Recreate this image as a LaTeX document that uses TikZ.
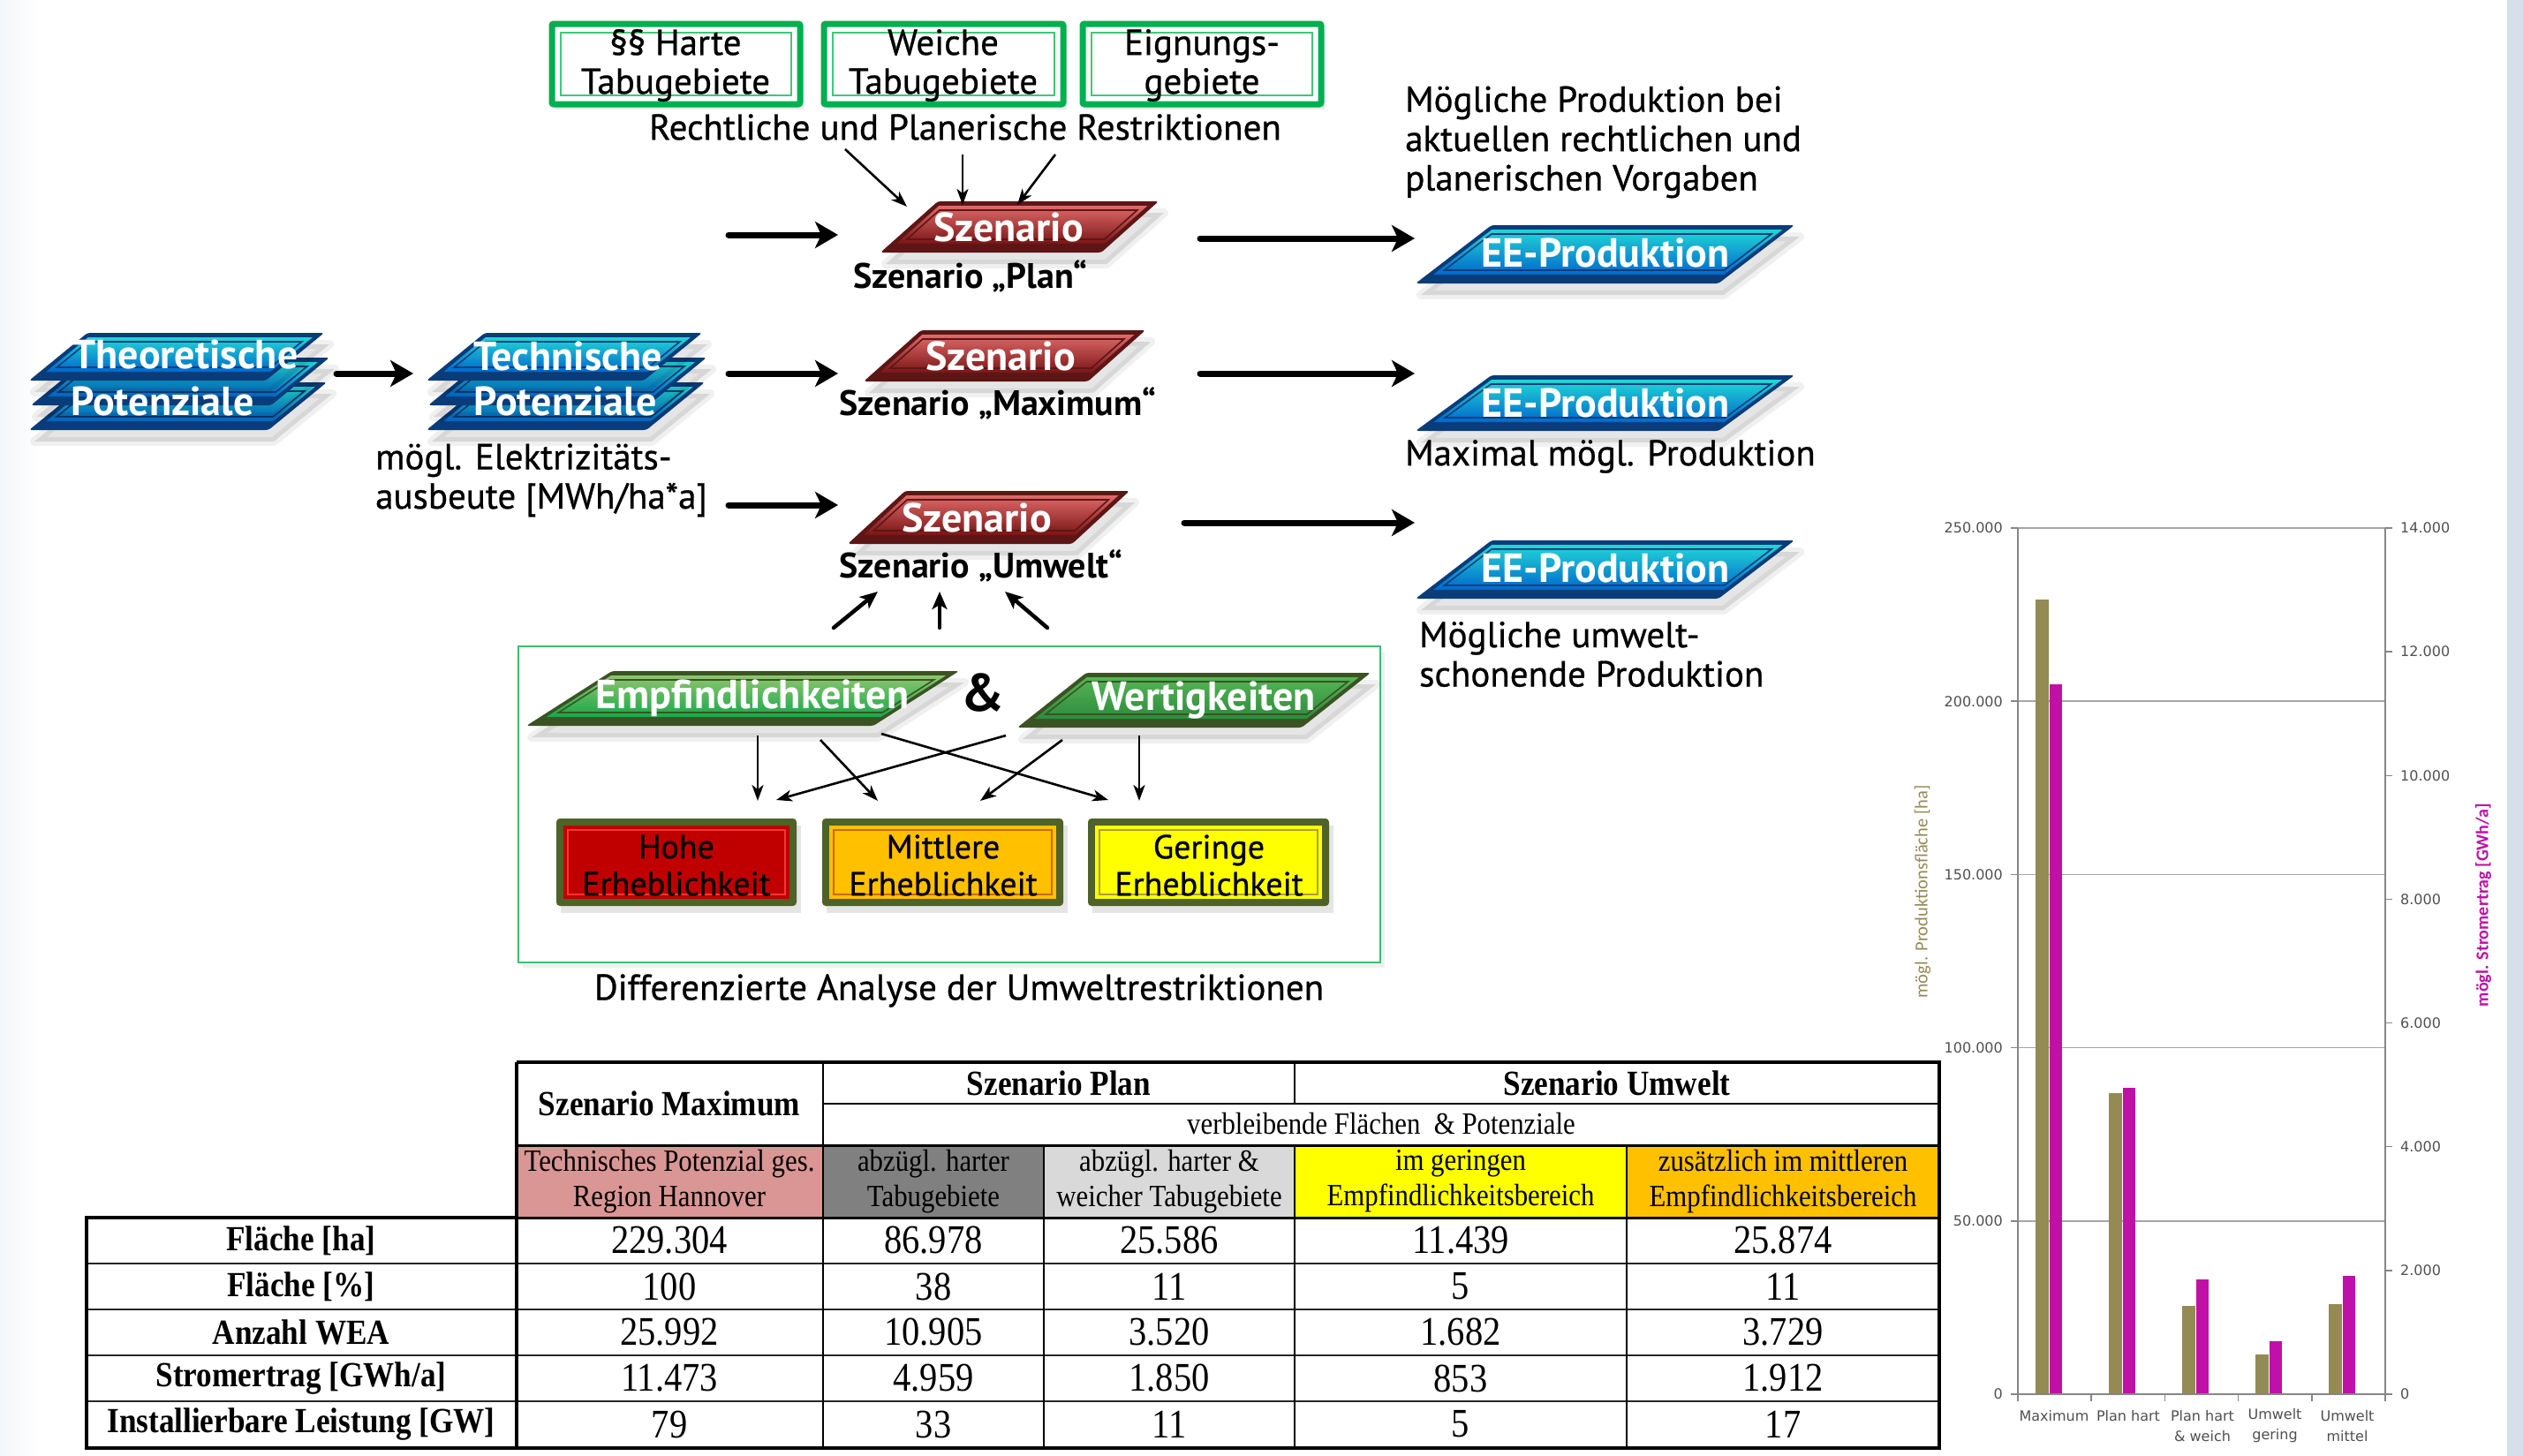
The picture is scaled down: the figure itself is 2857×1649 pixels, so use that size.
\documentclass[tikz,border=0pt]{standalone}
\usepackage{fontspec}
\setmainfont{PT Sans}
\newfontfamily\medfont[FakeBold=0.7]{PT Sans}
\newfontfamily\tabfont[FakeStretch=0.88]{Liberation Serif}
\newfontfamily\chartfont{DejaVu Sans}
\newfontfamily\calfont{Carlito}
\usetikzlibrary{arrows.meta}
\definecolor{gboxc}{HTML}{00B050}
\definecolor{gboxin}{HTML}{40C878}
\definecolor{framec}{HTML}{3CC070}
\definecolor{olivebd}{HTML}{4F6228}
\definecolor{redbd}{HTML}{5E1515}
\definecolor{redtop}{HTML}{E06A6A}
\definecolor{redbot}{HTML}{7A1515}
\definecolor{bluebd}{HTML}{0A3C7A}
\definecolor{bluetop}{HTML}{22D6D6}
\definecolor{bluebot}{HTML}{0068CC}
\definecolor{grnbd}{HTML}{3B5323}
\definecolor{grntop}{HTML}{8EC56E}
\definecolor{grnbot}{HTML}{18A84A}
\definecolor{wrttop}{HTML}{55B455}
\definecolor{wrtbot}{HTML}{2E8B3E}
\definecolor{tpink}{HTML}{DA9694}
\definecolor{tdgray}{HTML}{808080}
\definecolor{tlgray}{HTML}{D9D9D9}
\definecolor{tyellow}{HTML}{FFFF00}
\definecolor{torange}{HTML}{FFC000}
\definecolor{hohec}{HTML}{C00000}
\definecolor{olivec}{HTML}{948A54}
\definecolor{magc}{HTML}{C010A8}
\definecolor{gridc}{HTML}{A6A6A6}
\definecolor{axisc}{HTML}{868686}
\definecolor{tickc}{HTML}{505050}
\definecolor{stripc}{HTML}{D6DFEA}
\definecolor{leftc}{HTML}{F3F6FA}
\newcommand\fsz[2]{\fontsize{#1}{#2}\selectfont}
% parallelogram with 3D look: xL yT xR yB slant border top bottom
\newcommand\pgshape[8]{%
 \pgfmathsetmacro\pgsh{#4-#2}%
 \pgfmathsetmacro\pgsk{#5/\pgsh}%
 \pgfmathsetmacro\pgsA{#1+\pgsk*10+7}%
 \pgfmathsetmacro\pgsB{#1+\pgsk*(\pgsh-5)+7}%
 \pgfmathsetmacro\pgsC{#3-\pgsk*5-7}%
 \pgfmathsetmacro\pgsD{#3-\pgsk*(\pgsh-10)-7}%
 \pgfmathsetmacro\pgsE{#1+\pgsk*15+13}%
 \pgfmathsetmacro\pgsF{#1+\pgsk*(\pgsh-10)+13}%
 \pgfmathsetmacro\pgsG{#3-\pgsk*10-13}%
 \pgfmathsetmacro\pgsH{#3-\pgsk*(\pgsh-15)-13}%
 \fill[black,opacity=0.10] (#1+6,#4+13) -- (#1+#5+6,#2+13) -- (#3+6,#2+13) -- (#3-#5+6,#4+13) -- cycle;
 \draw[black,opacity=0.06,line width=10pt,line join=round] (#1+6,#4+13) -- (#1+#5+6,#2+13) -- (#3+6,#2+13) -- (#3-#5+6,#4+13) -- cycle;
 \fill[#6,rounded corners=3pt] (#1,#4) -- (#1+#5,#2) -- (#3,#2) -- (#3-#5,#4) -- cycle;
 \shade[top color=#7,bottom color=#8] (\pgsA,#4-10) -- (\pgsB,#2+5) -- (\pgsC,#2+5) -- (\pgsD,#4-10) -- cycle;
 \draw[#6,line width=1.6pt] (\pgsE,#4-15) -- (\pgsF,#2+10) -- (\pgsG,#2+10) -- (\pgsH,#4-15) -- cycle;
}
\newcommand\gbox[4]{%
 \fill[black,opacity=0.08] (#1+4,#2+6) rectangle (#3+4,#4+6);
 \fill[white] (#1,#2) rectangle (#3,#4);
 \draw[gboxc,line width=7pt,rounded corners=2pt] (#1,#2) rectangle (#3,#4);
 \draw[gboxin,line width=2pt] (#1+10,#2+10) rectangle (#3-10,#4-10);
}
\newcommand\ebox[6]{%
 \fill[black,opacity=0.10] (#1+5,#2+8) rectangle (#3+5,#4+8);
 \fill[olivebd,rounded corners=4pt] (#1,#2) rectangle (#3,#4);
 \fill[#5] (#1+8,#2+8) rectangle (#3-8,#4-8);
 \draw[#6,line width=1.8pt] (#1+13,#2+13) rectangle (#3-13,#4-13);
}
\tikzset{
 desc/.style={inner sep=0pt,align=center,font=\medfont\fsz{41}{44}},
 descl/.style={inner sep=0pt,align=left,anchor=west,font=\medfont\fsz{41}{44.5}},
 scen/.style={inner sep=0pt,font=\bfseries\fsz{40}{44}},
 shapetext/.style={inner sep=0pt,text=white,align=center,font=\bfseries\fsz{46}{52}},
 etext/.style={inner sep=0pt,align=center,font=\medfont\fsz{38}{42}},
 fatarrow/.style={line width=7pt,line cap=round,-{Stealth[length=26pt,width=30pt,inset=7pt]}},
 thinarrow/.style={line width=2.6pt,-{Stealth[length=18pt,width=13pt,inset=5pt]}},
 midarrow/.style={line width=4.5pt,line cap=round,-{Stealth[length=20pt,width=17pt,inset=5pt]}},
 tcell/.style={inner sep=0pt,align=center,font=\tabfont\fsz{35}{40}},
 tnum/.style={inner sep=0pt,font=\tabfont\fsz{46}{50}},
 tlab/.style={inner sep=0pt,font=\tabfont\bfseries\fsz{40}{46}},
 thead/.style={inner sep=0pt,font=\tabfont\bfseries\fsz{40}{46}},
 tick/.style={inner sep=0pt,text=tickc,font=\chartfont\fsz{16}{20}},
 cat/.style={inner sep=0pt,text=tickc,align=center,font=\chartfont\fsz{16}{23}},
}
\begin{document}
\begin{tikzpicture}[x=1pt,y=-1pt]
\useasboundingbox (0,0) rectangle (2857,1649);
\fill[white] (0,0) rectangle (2857,1649);
\shade[left color=leftc,right color=white] (0,0) rectangle (45,1649);
\fill[stripc] (2839,0) rectangle (2857,1649);

% ---------- top restriction boxes
\gbox{625}{27}{906}{118}
\gbox{933}{27}{1204}{118}
\gbox{1226}{27}{1496}{118}
\node[desc] (hart) at (765,74) {§§ Harte\\Tabugebiete};
\node[desc] (weich) at (1068,74) {Weiche\\Tabugebiete};
\node[desc] (eign) at (1361,74) {Eignungs-\\gebiete};
\node[desc] (restr) at (1093,144) {Rechtliche und Planerische Restriktionen};

% ---------- stacks
\pgshape{33}{433}{370}{487}{66}{bluebd}{bluetop}{bluebot}
\pgshape{35}{405}{373}{459}{66}{bluebd}{bluetop}{bluebot}
\pgshape{33}{377}{367}{431}{66}{bluebd}{bluetop}{bluebot}
\node[shapetext] (theo1) at (210,401) {Theoretische};
\node[shapetext] (theo2) at (184,454) {Potenziale};
\pgshape{483}{433}{798}{487}{66}{bluebd}{bluetop}{bluebot}
\pgshape{485}{405}{800}{459}{66}{bluebd}{bluetop}{bluebot}
\pgshape{483}{377}{795}{431}{66}{bluebd}{bluetop}{bluebot}
\node[shapetext] (tech1) at (643,403) {Technische};
\node[shapetext] (tech2) at (640,454) {Potenziale};
\node[descl] (ausb) at (425,544) {mögl. Elektrizitäts-\\ausbeute [MWh/ha*a]};

% ---------- scenarios
\pgshape{997}{228}{1312}{286}{65}{redbd}{redtop}{redbot}
\node[shapetext] (plan) at (1142,257) {Szenario};
\node[scen] (planlab) at (1099,313) {Szenario „Plan“};
\pgshape{978}{374}{1297}{432}{65}{redbd}{redtop}{redbot}
\node[shapetext] (max) at (1133,403) {Szenario};
\node[scen] (maxlab) at (1130,457) {Szenario „Maximum“};
\pgshape{960}{556}{1279}{616}{65}{redbd}{redtop}{redbot}
\node[shapetext] (umw) at (1106,586) {Szenario};
\node[scen] (umwlab) at (1111,641) {Szenario „Umwelt“};

% ---------- EE production
\pgshape{1603}{255}{2032}{321}{86}{bluebd}{bluetop}{bluebot}
\node[shapetext] (ee1) at (1818,286) {EE-Produktion};
\pgshape{1603}{425}{2032}{488}{86}{bluebd}{bluetop}{bluebot}
\node[shapetext] (ee2) at (1818,456) {EE-Produktion};
\pgshape{1603}{612}{2032}{678}{86}{bluebd}{bluetop}{bluebot}
\node[shapetext] (ee3) at (1818,643) {EE-Produktion};
\node[descl] (moegl1) at (1591,161) {Mögliche Produktion bei\\aktuellen rechtlichen und\\planerischen Vorgaben};
\node[descl] (maxprod) at (1591,517) {Maximal mögl. Produktion};
\node[descl] (moegl3) at (1607,741) {Mögliche umwelt-\\schonende Produktion};

% ---------- big arrows
\coordinate (a1s) at (381,423); \coordinate (a1e) at (468,423);
\coordinate (a2s) at (825,266); \coordinate (a2e) at (949,266);
\coordinate (a3s) at (825,423); \coordinate (a3e) at (949,423);
\coordinate (a4s) at (825,572); \coordinate (a4e) at (949,572);
\coordinate (a5s) at (1359,270); \coordinate (a5e) at (1602,270);
\coordinate (a6s) at (1359,423); \coordinate (a6e) at (1602,423);
\coordinate (a7s) at (1341,592); \coordinate (a7e) at (1602,592);
\foreach \n in {1,...,7} \draw[fatarrow] (a\n s) -- (a\n e);

% ---------- restriction arrows
\coordinate (r1s) at (957,169); \coordinate (r1e) at (1027,234);
\coordinate (r2s) at (1090,175); \coordinate (r2e) at (1090,232);
\coordinate (r3s) at (1195,175); \coordinate (r3e) at (1152,232);
\foreach \n in {1,2,3} \draw[thinarrow] (r\n s) -- (r\n e);

% ---------- environment box
\fill[black,opacity=0.06] (592,738) rectangle (1568,1096);
\fill[white] (587,732) rectangle (1563,1090);
\draw[framec,line width=2.5pt] (587,732) rectangle (1563,1090);
\coordinate (u1s) at (944,711); \coordinate (u1e) at (994,670);
\coordinate (u2s) at (1064,711); \coordinate (u2e) at (1064,670);
\coordinate (u3s) at (1186,711); \coordinate (u3e) at (1138,670);
\foreach \n in {1,2,3} \draw[midarrow] (u\n s) -- (u\n e);

\pgshape{596}{760}{1086}{822}{97}{grnbd}{grntop}{grnbot}
\node[shapetext] (empf) at (852,791) {Empfindlichkeiten};
\node[inner sep=0pt,font=\bfseries\fsz{60}{62}] (amp) at (1113,784) {\&};
\pgshape{1152}{762}{1552}{824}{78}{grnbd}{wrttop}{wrtbot}
\node[shapetext] (wert) at (1363,793) {Wertigkeiten};

\ebox{630}{927}{902}{1026}{hohec}{red!80!white}
\ebox{931}{927}{1204}{1026}{torange}{orange!80!black}
\ebox{1232}{927}{1505}{1026}{tyellow}{yellow!60!black}
\node[etext] (hohe) at (766,980) {Hohe\\Erheblichkeit};
\node[etext] (mittl) at (1068,980) {Mittlere\\Erheblichkeit};
\node[etext] (ger) at (1369,980) {Geringe\\Erheblichkeit};

\coordinate (e1s) at (858,833); \coordinate (e1e) at (858,907);
\coordinate (e2s) at (929,838); \coordinate (e2e) at (994,907);
\coordinate (e3s) at (998,831); \coordinate (e3e) at (1255,906);
\coordinate (e4s) at (1139,833); \coordinate (e4e) at (879,906);
\coordinate (e5s) at (1203,838); \coordinate (e5e) at (1110,907);
\coordinate (e6s) at (1290,833); \coordinate (e6e) at (1290,907);
\foreach \n in {1,...,6} \draw[thinarrow] (e\n s) -- (e\n e);
\node[desc] (diff) at (1086,1122) {Differenzierte Analyse der Umweltrestriktionen};

% ---------- table
\fill[tpink] (585,1297) rectangle (932,1379);
\fill[tdgray] (932,1297) rectangle (1182,1379);
\fill[tlgray] (1182,1297) rectangle (1466,1379);
\fill[tyellow] (1466,1297) rectangle (1842,1379);
\fill[torange] (1842,1297) rectangle (2196,1379);
\draw[line width=2.2pt] (932,1250) -- (2196,1250);
\draw[line width=3pt] (585,1297) -- (2196,1297);
\draw[line width=3pt] (98,1379) -- (2196,1379);
\foreach \yy in {1431,1483,1535,1587} \draw[line width=2pt,black!85] (98,\yy) -- (2196,\yy);
\draw[line width=2pt] (932,1203) -- (932,1640);
\draw[line width=2pt] (1466,1203) -- (1466,1250);
\draw[line width=2pt] (1466,1297) -- (1466,1640);
\draw[line width=2pt] (1182,1297) -- (1182,1640);
\draw[line width=2pt] (1842,1297) -- (1842,1640);
\draw[line width=4pt] (585,1203) -- (585,1640);
\draw[line width=4pt,line join=miter] (585,1203) -- (2196,1203) -- (2196,1640) -- (98,1640) -- (98,1379) -- (585,1379);

\node[thead] (hmax) at (758,1250) {Szenario Maximum};
\node[thead] (hplan) at (1199,1227) {Szenario Plan};
\node[thead] (humw) at (1831,1227) {Szenario Umwelt};
\node[tcell] (hverb) at (1564,1273) {verbleibende Flächen \ \& Potenziale};
\node[tcell] (s1) at (758,1338) {Technisches Potenzial ges.\\Region Hannover};
\node[tcell] (s2) at (1057,1338) {abzügl. harter\\Tabugebiete};
\node[tcell] (s3) at (1324,1338) {abzügl. harter \&\\weicher Tabugebiete};
\node[tcell] (s4) at (1654,1338) {im geringen\\Empfindlichkeitsbereich};
\node[tcell] (s5) at (2019,1338) {zusätzlich im mittleren\\Empfindlichkeitsbereich};

\node[tlab] (l1) at (341,1405) {Fläche [ha]};
\node[tlab] (l2) at (341,1457) {Fläche [\%]};
\node[tlab] (l3) at (341,1509) {Anzahl WEA};
\node[tlab] (l4) at (341,1561) {Stromertrag [GWh/a]};
\node[tlab] (l5) at (341,1613) {Installierbare Leistung [GW]};

\foreach \r/\yy/\va/\vb/\vc/\vd/\ve in {1/1405/229.304/86.978/25.586/11.439/25.874,
  2/1457/100/38/11/5/11, 3/1509/25.992/10.905/3.520/1.682/3.729,
  4/1561/11.473/4.959/1.850/853/1.912, 5/1613/79/33/11/5/17}{
  \node[tnum] (v\r a) at (758,\yy) {\va};
  \node[tnum] (v\r b) at (1057,\yy) {\vb};
  \node[tnum] (v\r c) at (1324,\yy) {\vc};
  \node[tnum] (v\r d) at (1654,\yy) {\vd};
  \node[tnum] (v\r e) at (2019,\yy) {\ve};
}

% ---------- chart
\foreach \k in {1,...,5} \draw[gridc,line width=1.5pt] (2285,{1579-196.2*\k}) -- (2701,{1579-196.2*\k});
\foreach \i/\a/\b in {1/229.304/11.473,2/86.978/4.959,3/25.586/1.850,4/11.439/0.853,5/25.874/1.912}{
  \pgfmathsetmacro\cx{2285+83.2*(\i-0.5)}
  \pgfmathsetmacro\ya{1579-\a/250*981}
  \pgfmathsetmacro\yb{1579-\b/14*981}
  \fill[olivec] (\cx-22,\ya) rectangle (\cx-7,1579);
  \fill[magc] (\cx-6,\yb) rectangle (\cx+8,1579);
}
\draw[axisc,line width=1.5pt] (2285,598) -- (2285,1579) -- (2701,1579) -- (2701,598);
\foreach \k in {0,...,5} \draw[axisc,line width=1.5pt] (2277,{1579-196.2*\k}) -- (2285,{1579-196.2*\k});
\foreach \k in {0,...,7} \draw[axisc,line width=1.5pt] (2701,{1579-140.14*\k}) -- (2709,{1579-140.14*\k});
\foreach \k in {0,...,5} \draw[axisc,line width=1.5pt] ({2285+83.2*\k},1579) -- ({2285+83.2*\k},1587);
\foreach \v/\k in {0/0,50.000/1,100.000/2,150.000/3,200.000/4,250.000/5}
  \node[tick,anchor=east] (yl\k) at (2268,{1579-196.2*\k}) {\v};
\foreach \v/\k in {0/0,2.000/1,4.000/2,6.000/3,8.000/4,10.000/5,12.000/6,14.000/7}
  \node[tick,anchor=west] (yr\k) at (2718,{1579-140.14*\k}) {\v};
\node[cat] (c1) at (2326,1604) {Maximum};
\node[cat] (c2) at (2410,1604) {Plan hart};
\node[cat] (c3) at (2494,1615) {Plan hart\\\& weich};
\node[cat] (c4) at (2576,1615) {Umwelt\\gering};
\node[cat] (c5) at (2658,1615) {Umwelt\\mittel};
\node[inner sep=0pt,rotate=90,text=olivec,font=\calfont\fsz{20.5}{22}] (ytl) at (2177,1010) {mögl. Produktionsfläche [ha]};
\node[inner sep=0pt,rotate=90,text=magc,font=\calfont\bfseries\fsz{20}{22}] (ytr) at (2812,1025) {mögl. Stromertrag [GWh/a]};
\end{tikzpicture}
\end{document}
